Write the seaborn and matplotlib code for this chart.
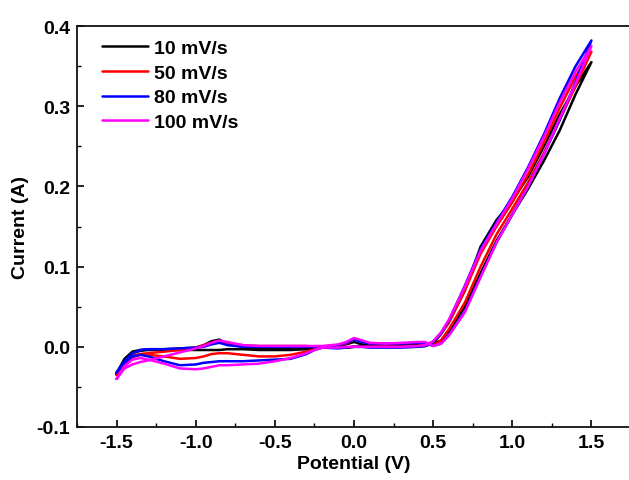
import numpy as np
import pandas as pd
import matplotlib
matplotlib.use("Agg")
import matplotlib.pyplot as plt
import seaborn as sns
from matplotlib.ticker import MultipleLocator

# Shared potential grid (V)
POT = [-1.5, -1.45, -1.4, -1.35, -1.3, -1.2, -1.1, -1.0, -0.95, -0.9, -0.85, -0.8,
       -0.7, -0.6, -0.5, -0.4, -0.3, -0.25, -0.2, -0.1, -0.05, 0.0, 0.05, 0.1,
       0.2, 0.3, 0.4, 0.45, 0.5, 0.55, 0.6, 0.7, 0.8, 0.9, 1.0, 1.1, 1.2, 1.3, 1.4, 1.5]

RATES = ["10 mV/s", "50 mV/s", "80 mV/s", "100 mV/s"]
COLORS = ["#000000", "#FF0000", "#0000FF", "#FF00FF"]

# forward scan (-1.5 -> 1.5), current in A
FWD_10 = [-0.033, -0.015, -0.006, -0.004, -0.003, -0.003, -0.002, -0.001, 0.002, 0.007, 0.009, 0.004,
          0.000, -0.001, -0.002, -0.002, -0.002, -0.001, 0.000, 0.001, 0.003, 0.006, 0.003, 0.002,
          0.002, 0.002, 0.003, 0.003, 0.003, 0.008, 0.020, 0.050, 0.092, 0.132, 0.165, 0.197, 0.232, 0.270, 0.315, 0.355]
FWD_50 = [-0.035, -0.020, -0.011, -0.009, -0.008, -0.006, -0.004, -0.001, 0.002, 0.005, 0.007, 0.005,
          0.002, 0.001, 0.001, 0.001, 0.001, 0.000, 0.000, 0.002, 0.004, 0.009, 0.007, 0.004,
          0.004, 0.004, 0.005, 0.005, 0.002, 0.008, 0.022, 0.055, 0.100, 0.140, 0.172, 0.205, 0.242, 0.283, 0.325, 0.368]
FWD_80 = [-0.032, -0.018, -0.008, -0.004, -0.003, -0.003, -0.002, -0.001, 0.000, 0.003, 0.005, 0.002,
          0.000, 0.000, 0.000, 0.000, 0.000, 0.000, 0.000, 0.002, 0.005, 0.009, 0.006, 0.004,
          0.004, 0.004, 0.005, 0.005, 0.001, 0.004, 0.015, 0.044, 0.088, 0.130, 0.165, 0.200, 0.240, 0.283, 0.330, 0.382]
FWD_100 = [-0.040, -0.027, -0.022, -0.019, -0.017, -0.012, -0.007, -0.002, 0.001, 0.005, 0.008, 0.006,
           0.002, 0.001, 0.001, 0.001, 0.001, 0.001, 0.001, 0.003, 0.006, 0.011, 0.008, 0.005,
           0.004, 0.005, 0.006, 0.006, 0.001, 0.004, 0.014, 0.043, 0.087, 0.130, 0.165, 0.200, 0.240, 0.285, 0.328, 0.375]

# reverse scan (listed on the same grid, drawn 1.5 -> -1.5)
REV_10 = [-0.033, -0.020, -0.008, -0.005, -0.004, -0.004, -0.004, -0.004, -0.004, -0.004, -0.004, -0.003,
          -0.003, -0.004, -0.004, -0.004, -0.003, -0.002, -0.001, -0.001, -0.001, 0.000, 0.000, 0.000,
          0.000, 0.000, 0.000, 0.001, 0.004, 0.016, 0.032, 0.070, 0.125, 0.158, 0.182, 0.212, 0.250, 0.290, 0.325, 0.355]
REV_50 = [-0.035, -0.022, -0.013, -0.010, -0.010, -0.012, -0.015, -0.014, -0.012, -0.009, -0.008, -0.008,
          -0.010, -0.012, -0.012, -0.010, -0.006, -0.003, -0.001, -0.001, -0.001, 0.000, 0.000, 0.000,
          0.000, 0.000, 0.001, 0.002, 0.006, 0.016, 0.030, 0.070, 0.116, 0.150, 0.180, 0.215, 0.255, 0.298, 0.337, 0.368]
REV_80 = [-0.032, -0.020, -0.012, -0.010, -0.012, -0.018, -0.023, -0.022, -0.020, -0.019, -0.018, -0.018,
          -0.018, -0.017, -0.016, -0.015, -0.009, -0.004, -0.001, -0.002, -0.001, 0.000, 0.000, -0.001,
          -0.001, -0.001, 0.000, 0.001, 0.006, 0.017, 0.033, 0.076, 0.122, 0.155, 0.187, 0.224, 0.265, 0.310, 0.350, 0.382]
REV_100 = [-0.040, -0.024, -0.016, -0.014, -0.016, -0.021, -0.027, -0.028, -0.027, -0.025, -0.023, -0.023,
           -0.022, -0.021, -0.018, -0.014, -0.008, -0.004, -0.001, -0.001, 0.000, 0.000, 0.000, 0.000,
           0.000, 0.000, 0.001, 0.002, 0.007, 0.018, 0.034, 0.075, 0.120, 0.153, 0.185, 0.222, 0.262, 0.305, 0.343, 0.375]

FWD = [FWD_10, FWD_50, FWD_80, FWD_100]
REV = [REV_10, REV_50, REV_80, REV_100]

rows = []
for rate, fwd, rev in zip(RATES, FWD, REV):
    xs = list(POT) + list(POT[::-1])
    ys = list(fwd) + list(rev[::-1])
    for i, (x, y) in enumerate(zip(xs, ys)):
        rows.append({"Rate": rate, "Potential": x, "Current": y, "order": i})
df = pd.DataFrame(rows)

sns.set_style("ticks")
plt.rcParams["font.family"] = ["Liberation Sans", "DejaVu Sans"]
plt.rcParams["font.weight"] = "bold"
plt.rcParams["text.color"] = "black"
plt.rcParams["axes.labelcolor"] = "black"
plt.rcParams["xtick.color"] = "black"
plt.rcParams["ytick.color"] = "black"

fig = plt.figure(figsize=(6.29, 4.81), dpi=100)
ax = fig.add_axes([77 / 629, 53 / 481, 554 / 629, 401 / 481])

sns.lineplot(data=df, x="Potential", y="Current", hue="Rate", hue_order=RATES,
             palette=COLORS, sort=False, estimator=None, lw=1.8, ax=ax)

ax.set_xlim(-1.75, 1.75)
ax.set_ylim(-0.1, 0.4)
ax.xaxis.set_minor_locator(MultipleLocator(0.25))
ax.yaxis.set_minor_locator(MultipleLocator(0.05))
ax.set_xticks([-1.5, -1.0, -0.5, 0.0, 0.5, 1.0, 1.5])
ax.set_xticklabels(["-1.5", "-1.0", "-0.5", "0.0", "0.5", "1.0", "1.5"])
ax.set_yticks([-0.1, 0.0, 0.1, 0.2, 0.3, 0.4])
ax.set_yticklabels(["-0.1", "0.0", "0.1", "0.2", "0.3", "0.4"])
ax.tick_params(which="major", direction="in", length=5, width=1.2, labelsize=14, pad=5)
ax.tick_params(which="minor", direction="in", length=3, width=1.0)
for lab in ax.get_xticklabels() + ax.get_yticklabels():
    lab.set_fontweight("bold")
for sp in ax.spines.values():
    sp.set_linewidth(1.3)
    sp.set_color("#111111")

ax.set_xlabel("Potential (V)", fontsize=14, fontweight="bold", labelpad=3)
ax.set_ylabel("Current (A)", fontsize=14, fontweight="bold", labelpad=5)

handles, labels = ax.get_legend_handles_labels()
leg = ax.legend(handles, labels, loc="upper left", frameon=False, fontsize=14,
                handlelength=2.4, handletextpad=0.3, labelspacing=0.36,
                borderaxespad=0.3, bbox_to_anchor=(0.02, 1.0))
for t in leg.get_texts():
    t.set_fontweight("bold")
for l in leg.get_lines():
    l.set_linewidth(1.8)

fig.savefig("out.png", dpi=100)
